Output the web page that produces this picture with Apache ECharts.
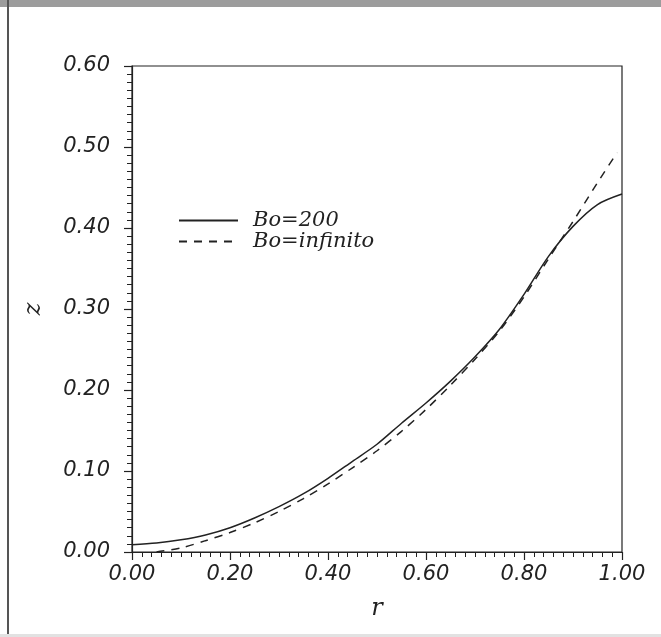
<!DOCTYPE html>
<html>
<head>
<meta charset="utf-8">
<script src="https://cdn.jsdelivr.net/npm/echarts@6/dist/echarts.min.js"></script>
<style>html,body{margin:0;padding:0;background:#fff;}#c{width:661px;height:637px;}</style>
</head>
<body>
<div id="c"></div>
<script>
// Bo=200 (solid)
const rSolid = [0, 0.05, 0.10, 0.15, 0.20, 0.25, 0.30, 0.35, 0.40, 0.45, 0.50, 0.55, 0.60, 0.65, 0.70, 0.75, 0.80, 0.85, 0.90, 0.95, 1.00];
const zSolid = [0.009, 0.011, 0.015, 0.021, 0.030, 0.042, 0.056, 0.072, 0.091, 0.112, 0.133, 0.159, 0.184, 0.211, 0.241, 0.275, 0.318, 0.365, 0.402, 0.429, 0.442];
// Bo=infinito (dashed)
const rDash = [0.05, 0.10, 0.15, 0.20, 0.25, 0.30, 0.35, 0.40, 0.45, 0.50, 0.55, 0.60, 0.65, 0.70, 0.75, 0.80, 0.85, 0.90, 0.95, 0.99];
const zDash = [0.000, 0.005, 0.014, 0.024, 0.036, 0.050, 0.066, 0.084, 0.104, 0.125, 0.149, 0.176, 0.206, 0.238, 0.273, 0.315, 0.362, 0.408, 0.456, 0.493];
const seriesNames = ['Bo=200', 'Bo=infinito'];
const xName = 'r';
const yName = 'z';

const ink = '#222';
const chart = echarts.init(document.getElementById('c'), null, {renderer: 'canvas'});
const tickFont = {fontFamily: 'DejaVu Sans', fontStyle: 'italic', fontSize: 21, color: ink};
chart.setOption({
  animation: false,
  backgroundColor: '#fff',
  graphic: [
    {type: 'rect', shape: {x: 0, y: 0, width: 661, height: 7}, style: {fill: '#9c9c9c'}},
    {type: 'rect', shape: {x: 7, y: 0, width: 2, height: 637}, style: {fill: '#555'}},
    {type: 'rect', shape: {x: 0, y: 634, width: 661, height: 3}, style: {fill: '#e2e2e2'}}
  ],
  grid: {left: 132, right: 39, top: 66, bottom: 85, show: true, borderColor: ink, borderWidth: 1.2, backgroundColor: 'transparent'},
  legend: {
    left: 173, top: 205, orient: 'vertical', itemWidth: 59, itemHeight: 12, itemGap: 0,
    itemStyle: {opacity: 0},
    textStyle: {fontFamily: 'DejaVu Serif', fontStyle: 'italic', fontSize: 21, lineHeight: 19, color: ink, padding: [0, 0, 0, 10]},
    data: seriesNames
  },
  xAxis: {
    type: 'value', min: 0, max: 1, interval: 0.2,
    name: xName, nameLocation: 'middle', nameGap: 45,
    nameTextStyle: {fontFamily: 'DejaVu Serif', fontStyle: 'italic', fontSize: 24, color: ink},
    axisLine: {show: true, lineStyle: {color: ink, width: 1.2}},
    axisTick: {show: true, inside: false, length: 8, lineStyle: {color: ink, width: 1.2}},
    minorTick: {show: true, splitNumber: 10, length: 5, lineStyle: {color: ink, width: 1}},
    splitLine: {show: false},
    axisLabel: Object.assign({margin: 12, formatter: v => v.toFixed(2)}, tickFont)
  },
  yAxis: {
    type: 'value', min: 0, max: 0.6, interval: 0.1,
    name: yName, nameLocation: 'middle', nameGap: 86, nameRotate: 90,
    nameTextStyle: {fontFamily: 'DejaVu Serif', fontStyle: 'italic', fontSize: 24, color: ink},
    axisLine: {show: true, lineStyle: {color: ink, width: 1.2}},
    axisTick: {show: true, inside: false, length: 8, lineStyle: {color: ink, width: 1.2}},
    minorTick: {show: true, splitNumber: 10, length: 5, lineStyle: {color: ink, width: 1}},
    splitLine: {show: false},
    axisLabel: Object.assign({margin: 22, formatter: v => v.toFixed(2)}, tickFont)
  },
  series: [
    {
      name: seriesNames[0], type: 'line', smooth: 0.3, symbol: 'none',
      data: rSolid.map((r, i) => [r, zSolid[i]]),
      lineStyle: {color: ink, width: 1.5, type: 'solid'},
      itemStyle: {color: ink}
    },
    {
      name: seriesNames[1], type: 'line', smooth: 0.3, symbol: 'none',
      data: rDash.map((r, i) => [r, zDash[i]]),
      lineStyle: {color: ink, width: 1.5, type: [8, 7]},
      itemStyle: {color: ink}
    }
  ]
});
</script>
</body>
</html>
